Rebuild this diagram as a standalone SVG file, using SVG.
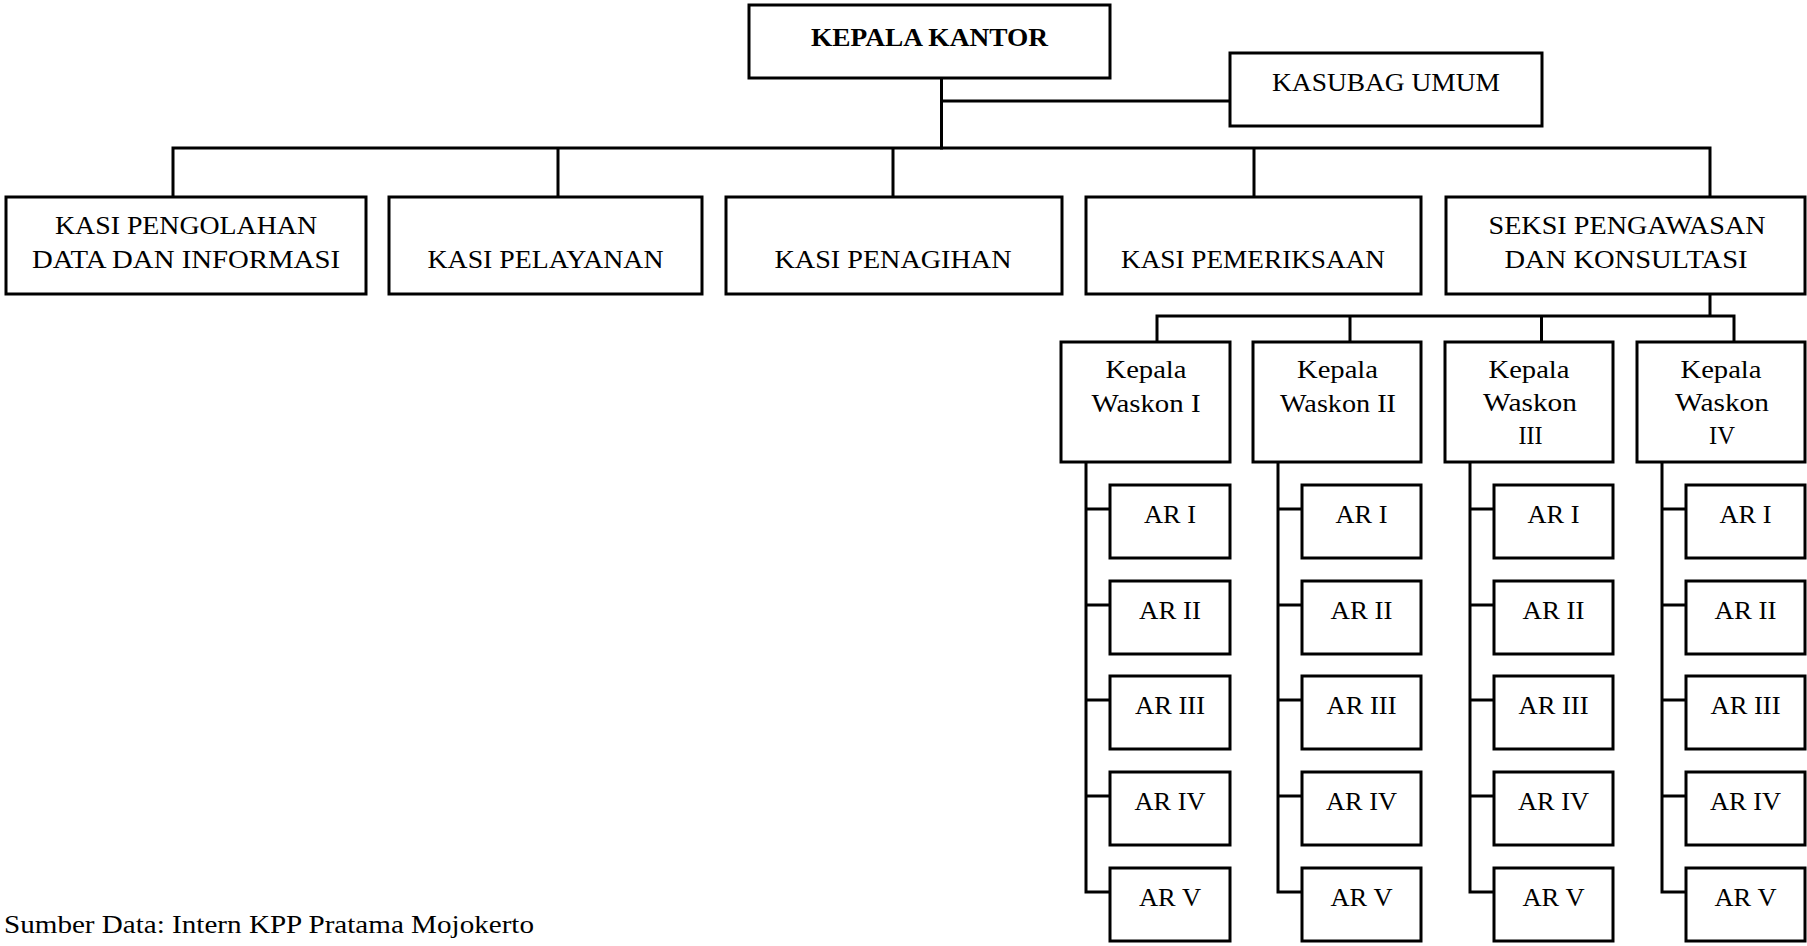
<svg xmlns="http://www.w3.org/2000/svg" width="1807" height="946" viewBox="0 0 1807 946">
  <style>
    .box { fill: #ffffff; stroke: #000000; stroke-width: 3; }
    .wire { fill: none; stroke: #000000; stroke-width: 3; stroke-linecap: square; }
    text { font-family: "Liberation Serif", "DejaVu Serif", serif; font-size: 25px; fill: #000000; }
    .c { text-anchor: middle; }
    .b { font-weight: bold; }
  </style>

  <rect width="1807" height="946" fill="#ffffff"/>

  <!-- connectors -->
  <g id="connectors" class="wire">
    <path d="M941.5 78 V148 M941.5 101 H1230"/>
    <path d="M173 148 H1710 M173 148 V197 M558 148 V197 M893 148 V197 M1254 148 V197 M1710 148 V197"/>
    <path d="M1710 294 V316 M1157 316 H1734 M1157 316 V342 M1350 316 V342 M1541.5 316 V342 M1734 316 V342"/>
    <!-- spines from each Kepala Waskon down to its AR boxes -->
    <path d="M1086 462 V892 M1086 509 H1110 M1086 605 H1110 M1086 700 H1110 M1086 796 H1110 M1086 892 H1110"/>
    <path d="M1278 462 V892 M1278 509 H1302 M1278 605 H1302 M1278 700 H1302 M1278 796 H1302 M1278 892 H1302"/>
    <path d="M1470 462 V892 M1470 509 H1494 M1470 605 H1494 M1470 700 H1494 M1470 796 H1494 M1470 892 H1494"/>
    <path d="M1662 462 V892 M1662 509 H1686 M1662 605 H1686 M1662 700 H1686 M1662 796 H1686 M1662 892 H1686"/>
  </g>

  <!-- top level -->
  <g id="kepala-kantor">
    <rect class="box" x="749" y="5" width="361" height="73"/>
    <text class="c b" x="929.5" y="46" textLength="237" lengthAdjust="spacingAndGlyphs">KEPALA KANTOR</text>
  </g>
  <g id="kasubag-umum">
    <rect class="box" x="1230" y="53" width="312" height="73"/>
    <text class="c" x="1386" y="91" textLength="228" lengthAdjust="spacingAndGlyphs">KASUBAG UMUM</text>
  </g>

  <!-- sections -->
  <g id="kasi-pdi">
    <rect class="box" x="6" y="197" width="360" height="97"/>
    <text class="c" x="186" y="234" textLength="262" lengthAdjust="spacingAndGlyphs">KASI PENGOLAHAN</text>
    <text class="c" x="186" y="268" textLength="308" lengthAdjust="spacingAndGlyphs">DATA DAN INFORMASI</text>
  </g>
  <g id="kasi-pelayanan">
    <rect class="box" x="389" y="197" width="313" height="97"/>
    <text class="c" x="545.5" y="268" textLength="236" lengthAdjust="spacingAndGlyphs">KASI PELAYANAN</text>
  </g>
  <g id="kasi-penagihan">
    <rect class="box" x="726" y="197" width="336" height="97"/>
    <text class="c" x="893" y="268" textLength="237" lengthAdjust="spacingAndGlyphs">KASI PENAGIHAN</text>
  </g>
  <g id="kasi-pemeriksaan">
    <rect class="box" x="1086" y="197" width="335" height="97"/>
    <text class="c" x="1253" y="268" textLength="264" lengthAdjust="spacingAndGlyphs">KASI PEMERIKSAAN</text>
  </g>
  <g id="seksi-waskon">
    <rect class="box" x="1446" y="197" width="359" height="97"/>
    <text class="c" x="1627" y="234" textLength="277" lengthAdjust="spacingAndGlyphs">SEKSI PENGAWASAN</text>
    <text class="c" x="1626" y="268" textLength="243" lengthAdjust="spacingAndGlyphs">DAN KONSULTASI</text>
  </g>

  <!-- Kepala Waskon I -->
  <g id="waskon-1">
    <rect class="box" x="1061" y="342" width="169" height="120"/>
    <text class="c" x="1146" y="378" textLength="81" lengthAdjust="spacingAndGlyphs">Kepala</text>
    <text class="c" x="1146" y="412" textLength="109" lengthAdjust="spacingAndGlyphs">Waskon I</text>
  </g>
  <g id="waskon-1-ar">
    <rect class="box" x="1110" y="485" width="120" height="73"/><text class="c" x="1170" y="523" textLength="52" lengthAdjust="spacingAndGlyphs">AR I</text>
    <rect class="box" x="1110" y="581" width="120" height="73"/><text class="c" x="1170" y="619" textLength="62" lengthAdjust="spacingAndGlyphs">AR II</text>
    <rect class="box" x="1110" y="676" width="120" height="73"/><text class="c" x="1170" y="714" textLength="70" lengthAdjust="spacingAndGlyphs">AR III</text>
    <rect class="box" x="1110" y="772" width="120" height="73"/><text class="c" x="1170" y="810" textLength="71" lengthAdjust="spacingAndGlyphs">AR IV</text>
    <rect class="box" x="1110" y="868" width="120" height="73"/><text class="c" x="1170" y="906" textLength="62" lengthAdjust="spacingAndGlyphs">AR V</text>
  </g>

  <!-- Kepala Waskon II -->
  <g id="waskon-2">
    <rect class="box" x="1253" y="342" width="168" height="120"/>
    <text class="c" x="1337.5" y="378" textLength="81" lengthAdjust="spacingAndGlyphs">Kepala</text>
    <text class="c" x="1338" y="412" textLength="116" lengthAdjust="spacingAndGlyphs">Waskon II</text>
  </g>
  <g id="waskon-2-ar">
    <rect class="box" x="1302" y="485" width="119" height="73"/><text class="c" x="1361.5" y="523" textLength="52" lengthAdjust="spacingAndGlyphs">AR I</text>
    <rect class="box" x="1302" y="581" width="119" height="73"/><text class="c" x="1361.5" y="619" textLength="62" lengthAdjust="spacingAndGlyphs">AR II</text>
    <rect class="box" x="1302" y="676" width="119" height="73"/><text class="c" x="1361.5" y="714" textLength="70" lengthAdjust="spacingAndGlyphs">AR III</text>
    <rect class="box" x="1302" y="772" width="119" height="73"/><text class="c" x="1361.5" y="810" textLength="71" lengthAdjust="spacingAndGlyphs">AR IV</text>
    <rect class="box" x="1302" y="868" width="119" height="73"/><text class="c" x="1361.5" y="906" textLength="62" lengthAdjust="spacingAndGlyphs">AR V</text>
  </g>

  <!-- Kepala Waskon III -->
  <g id="waskon-3">
    <rect class="box" x="1445" y="342" width="168" height="120"/>
    <text class="c" x="1529" y="378" textLength="81" lengthAdjust="spacingAndGlyphs">Kepala</text>
    <text class="c" x="1530" y="411" textLength="94" lengthAdjust="spacingAndGlyphs">Waskon</text>
    <text class="c" x="1530.5" y="444" textLength="24" lengthAdjust="spacingAndGlyphs">III</text>
  </g>
  <g id="waskon-3-ar">
    <rect class="box" x="1494" y="485" width="119" height="73"/><text class="c" x="1553.5" y="523" textLength="52" lengthAdjust="spacingAndGlyphs">AR I</text>
    <rect class="box" x="1494" y="581" width="119" height="73"/><text class="c" x="1553.5" y="619" textLength="62" lengthAdjust="spacingAndGlyphs">AR II</text>
    <rect class="box" x="1494" y="676" width="119" height="73"/><text class="c" x="1553.5" y="714" textLength="70" lengthAdjust="spacingAndGlyphs">AR III</text>
    <rect class="box" x="1494" y="772" width="119" height="73"/><text class="c" x="1553.5" y="810" textLength="71" lengthAdjust="spacingAndGlyphs">AR IV</text>
    <rect class="box" x="1494" y="868" width="119" height="73"/><text class="c" x="1553.5" y="906" textLength="62" lengthAdjust="spacingAndGlyphs">AR V</text>
  </g>

  <!-- Kepala Waskon IV -->
  <g id="waskon-4">
    <rect class="box" x="1637" y="342" width="168" height="120"/>
    <text class="c" x="1721" y="378" textLength="81" lengthAdjust="spacingAndGlyphs">Kepala</text>
    <text class="c" x="1722" y="411" textLength="94" lengthAdjust="spacingAndGlyphs">Waskon</text>
    <text class="c" x="1722" y="444" textLength="26" lengthAdjust="spacingAndGlyphs">IV</text>
  </g>
  <g id="waskon-4-ar">
    <rect class="box" x="1686" y="485" width="119" height="73"/><text class="c" x="1745.5" y="523" textLength="52" lengthAdjust="spacingAndGlyphs">AR I</text>
    <rect class="box" x="1686" y="581" width="119" height="73"/><text class="c" x="1745.5" y="619" textLength="62" lengthAdjust="spacingAndGlyphs">AR II</text>
    <rect class="box" x="1686" y="676" width="119" height="73"/><text class="c" x="1745.5" y="714" textLength="70" lengthAdjust="spacingAndGlyphs">AR III</text>
    <rect class="box" x="1686" y="772" width="119" height="73"/><text class="c" x="1745.5" y="810" textLength="71" lengthAdjust="spacingAndGlyphs">AR IV</text>
    <rect class="box" x="1686" y="868" width="119" height="73"/><text class="c" x="1745.5" y="906" textLength="62" lengthAdjust="spacingAndGlyphs">AR V</text>
  </g>

  <!-- source note -->
  <text id="source-note" x="4" y="933" textLength="530" lengthAdjust="spacingAndGlyphs">Sumber Data: Intern KPP Pratama Mojokerto</text>
</svg>
